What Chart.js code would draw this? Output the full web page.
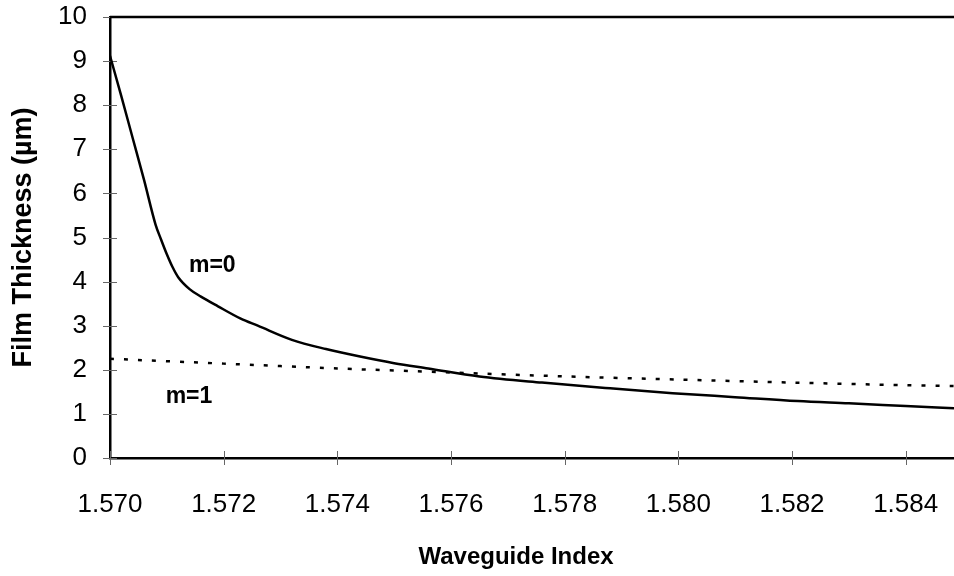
<!DOCTYPE html>
<html>
<head>
<meta charset="utf-8">
<script src="https://cdn.jsdelivr.net/npm/chart.js@4"></script>
<style>
  body { margin: 0; background: #fff; }
  #wrap { width: 954px; height: 576px; }
</style>
</head>
<body>
<div id="wrap"><canvas id="filmChart"></canvas></div>
<script>
// m=0 mode
const m0Index = [1.5700, 1.5702, 1.5704, 1.5706, 1.5708, 1.5709, 1.5710, 1.5711, 1.5712, 1.5714,
  1.5716, 1.5719, 1.5723, 1.5726, 1.5732, 1.5738, 1.5744, 1.5750, 1.5756, 1.5765,
  1.5776, 1.5788, 1.5799, 1.5810, 1.5821, 1.5830, 1.5840, 1.58485];
const m0Thickness = [9.12, 8.20, 7.25, 6.30, 5.30, 4.95, 4.62, 4.33, 4.10, 3.83,
  3.66, 3.44, 3.16, 3.00, 2.68, 2.47, 2.30, 2.15, 2.03, 1.85,
  1.71, 1.58, 1.47, 1.38, 1.29, 1.24, 1.18, 1.13];

// m=1 mode
const m1Index = [1.570, 1.572, 1.574, 1.576, 1.578, 1.580, 1.582, 1.584, 1.58485];
const m1Thickness = [2.25, 2.14, 2.03, 1.94, 1.85, 1.78, 1.71, 1.65, 1.63];

const xTickValues = [1.570, 1.572, 1.574, 1.576, 1.578, 1.580, 1.582, 1.584];
const yTickValues = [0, 1, 2, 3, 4, 5, 6, 7, 8, 9, 10];

const curveLabels = [
  { text: "m=0", x: 1.5718, y: 4.36 },
  { text: "m=1", x: 1.57139, y: 1.38 }
];

const toPoints = (xs, ys) => xs.map((x, i) => ({ x: x, y: ys[i] }));

// fixed plot box: no extra room for overflowing tick labels
const noPad = (scale) => {
  scale.paddingTop = 0;
  scale.paddingBottom = 0;
  scale.paddingLeft = 0;
  scale.paddingRight = 0;
};

// ticks crossing the axes, top border, curve labels and x title
const extras = {
  id: "extras",
  beforeDatasetsDraw(chart) {
    const { ctx, chartArea, scales } = chart;
    ctx.save();
    ctx.strokeStyle = "#666";
    ctx.lineWidth = 1;
    ctx.beginPath();
    yTickValues.forEach((v) => {
      const y = Math.round(scales.y.getPixelForValue(v)) + 0.5;
      ctx.moveTo(chartArea.left - 7, y);
      ctx.lineTo(chartArea.left + 7, y);
    });
    xTickValues.forEach((v) => {
      const x = Math.round(scales.x.getPixelForValue(v)) + 0.5;
      ctx.moveTo(x, chartArea.bottom - 7);
      ctx.lineTo(x, chartArea.bottom + 7);
    });
    ctx.stroke();
    ctx.restore();
  },
  afterDraw(chart) {
    const { ctx, chartArea, scales } = chart;
    ctx.save();
    ctx.strokeStyle = "#000";
    ctx.lineWidth = 2.5;
    ctx.beginPath();
    ctx.moveTo(chartArea.left, chartArea.top);
    ctx.lineTo(chartArea.right, chartArea.top);
    ctx.stroke();

    ctx.fillStyle = "#000";
    ctx.textAlign = "center";
    ctx.textBaseline = "middle";
    ctx.font = "bold 23px 'Liberation Sans', Arial, sans-serif";
    curveLabels.forEach((l) => {
      ctx.fillText(l.text, scales.x.getPixelForValue(l.x), scales.y.getPixelForValue(l.y));
    });

    ctx.font = "bold 24px 'Liberation Sans', Arial, sans-serif";
    ctx.fillText("Waveguide Index", 516, 557);
    ctx.restore();
  }
};

const ctx = document.getElementById("filmChart").getContext("2d");
const filmChart = new Chart(ctx, {
  type: "line",
  data: {
    datasets: [
      {
        label: "m=0",
        data: toPoints(m0Index, m0Thickness),
        borderColor: "#000",
        borderWidth: 2.5,
        pointRadius: 0,
        cubicInterpolationMode: "monotone",
        fill: false
      },
      {
        label: "m=1",
        data: toPoints(m1Index, m1Thickness),
        borderColor: "#000",
        borderWidth: 2.5,
        borderDash: [4, 10],
        pointRadius: 0,
        tension: 0.3,
        fill: false
      }
    ]
  },
  options: {
    responsive: true,
    maintainAspectRatio: false,
    animation: false,
    layout: { padding: { left: 0, right: 0, top: 17, bottom: 0 } },
    plugins: {
      legend: { display: false },
      tooltip: { enabled: false }
    },
    scales: {
      x: {
        type: "linear",
        min: 1.570,
        max: 1.58485,
        afterFit: (scale) => { scale.height = 118; noPad(scale); },
        afterBuildTicks: (scale) => { scale.ticks = xTickValues.map((v) => ({ value: v })); },
        grid: { display: true, drawOnChartArea: false, drawTicks: false },
        border: { display: true, color: "#000", width: 2.5 },
        ticks: {
          padding: 31,
          color: "#000",
          font: { family: "'Liberation Sans', Arial, sans-serif", size: 26 },
          maxRotation: 0,
          callback: (v) => Number(v).toFixed(3)
        }
      },
      y: {
        min: 0,
        max: 10,
        afterFit: (scale) => { scale.width = 110; noPad(scale); },
        afterBuildTicks: (scale) => { scale.ticks = yTickValues.map((v) => ({ value: v })); },
        grid: { display: true, drawOnChartArea: false, drawTicks: false },
        border: { display: true, color: "#000", width: 2.5 },
        ticks: {
          padding: 23,
          color: "#000",
          font: { family: "'Liberation Sans', Arial, sans-serif", size: 26 }
        },
        title: {
          display: true,
          text: "Film Thickness (µm)",
          color: "#000",
          padding: { top: 7, bottom: 0 },
          font: { family: "'Liberation Sans', Arial, sans-serif", size: 27, weight: "bold" }
        }
      }
    }
  },
  plugins: [extras]
});
</script>
</body>
</html>
